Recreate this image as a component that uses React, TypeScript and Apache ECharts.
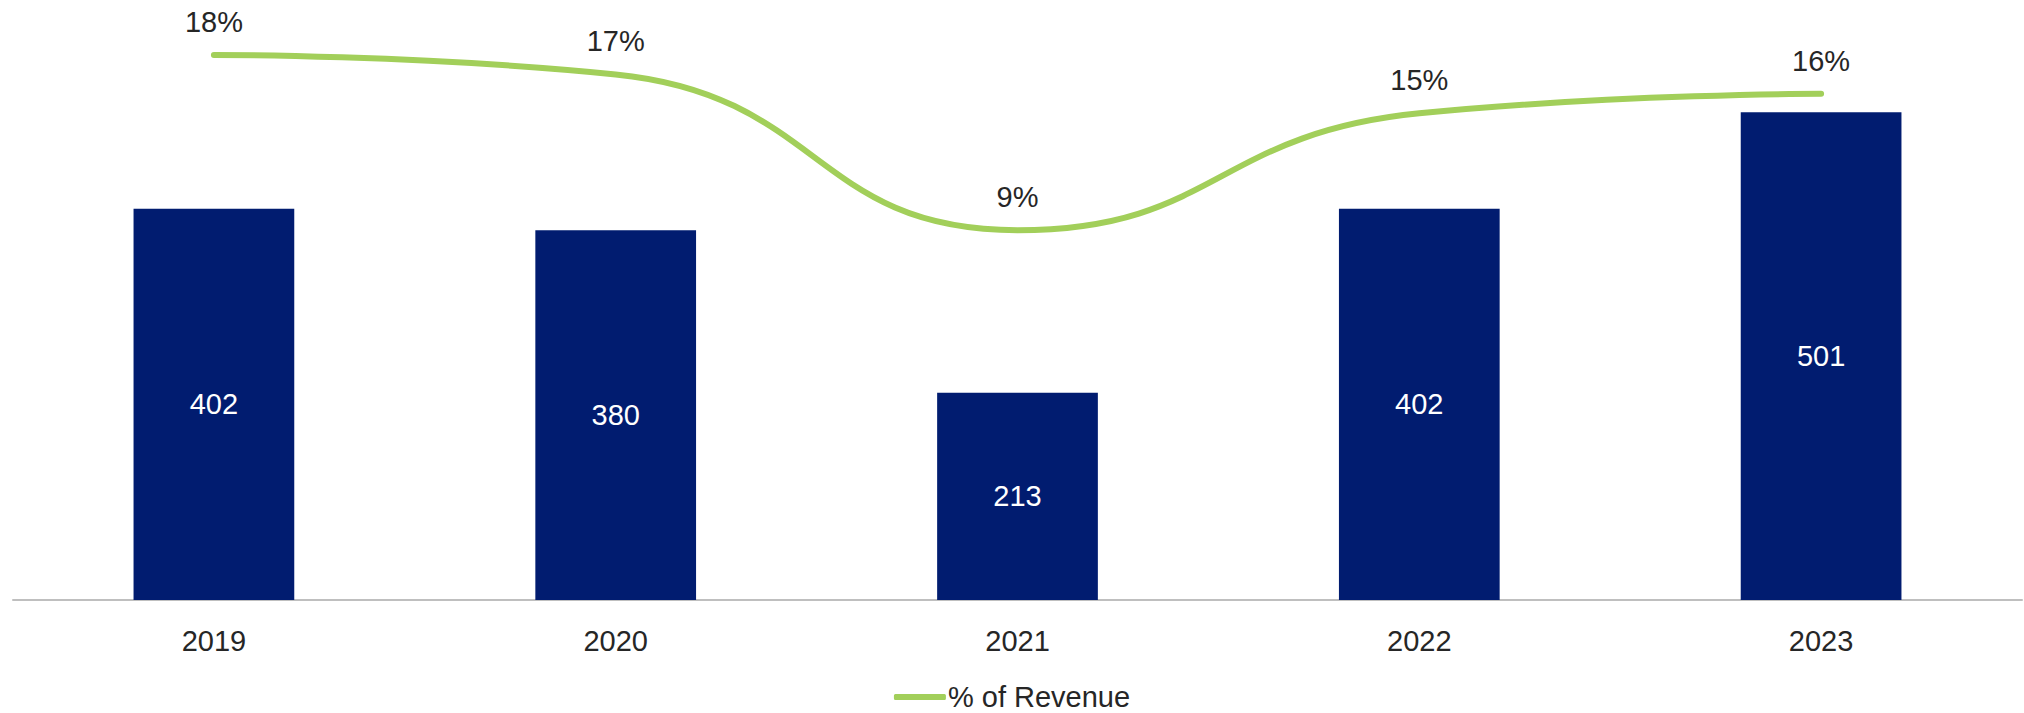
import React, { useEffect, useRef } from "react";
import * as echarts from "echarts";

const categories = ["2019", "2020", "2021", "2022", "2023"];
const barValues = [402, 380, 213, 402, 501];
const pctValues = [18, 17, 9, 15, 16];
const lineName = "% of Revenue";

export default function App() {
  const ref = useRef<HTMLDivElement>(null);
  useEffect(() => {
    document.body.style.margin = "0";
    const chart = echarts.init(ref.current!, null, { renderer: "svg" });
    const font = "Liberation Sans, Arial, sans-serif";
    chart.setOption({
      animation: false,
      backgroundColor: "#ffffff",
      textStyle: { fontFamily: font },
      grid: { left: 13, right: 2, top: 16, bottom: 113, containLabel: false },
      legend: {
        show: true,
        data: [
          {
            name: lineName,
            icon: "roundRect",
            itemStyle: { color: "#a2cf5a", opacity: 1 },
          },
        ],
        top: 682,
        left: "center",
        padding: 0,
        itemWidth: 52,
        itemHeight: 6,
        itemGap: 10,
        textStyle: {
          fontSize: 29,
          lineHeight: 30,
          color: "#262626",
          fontFamily: font,
          padding: [0, 0, 0, -3],
        },
      },
      xAxis: {
        type: "category",
        data: categories,
        axisLine: { show: true, lineStyle: { color: "#bfbfbf", width: 2 } },
        axisTick: { show: false },
        axisLabel: { fontSize: 29, color: "#262626", margin: 26, fontFamily: font },
      },
      yAxis: [
        { type: "value", min: 0, max: 600, show: false, splitLine: { show: false } },
        { type: "value", min: -10, max: 20, show: false, splitLine: { show: false } },
      ],
      series: [
        {
          type: "bar",
          name: "Value",
          data: barValues,
          barWidth: "40%",
          itemStyle: { color: "#011c70" },
          label: {
            show: true,
            position: "inside",
            color: "#ffffff",
            fontSize: 29,
            fontFamily: font,
          },
        },
        {
          type: "line",
          name: lineName,
          yAxisIndex: 1,
          data: pctValues,
          smooth: 0.5,
          symbol: "circle",
          symbolSize: 1,
          showSymbol: true,
          lineStyle: { color: "#a2cf5a", width: 6, cap: "round" },
          itemStyle: { color: "#a2cf5a", opacity: 0 },
          label: {
            show: true,
            position: "top",
            distance: 18,
            color: "#262626",
            fontSize: 29,
            fontFamily: font,
            opacity: 1,
            formatter: (p: any) => p.value + "%",
          },
          labelLayout: { hideOverlap: false },
        },
      ],
    });
    return () => chart.dispose();
  }, []);
  return (
    <div
      ref={ref}
      style={{ position: "fixed", left: 0, top: 0, width: "2024px", height: "713px" }}
    />
  );
}
